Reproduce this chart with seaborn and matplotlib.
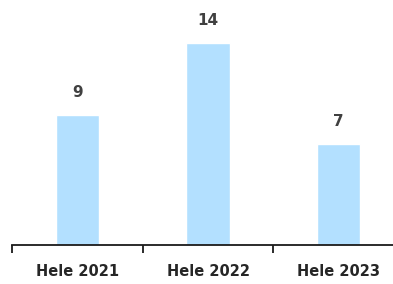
import pandas as pd
import seaborn as sns
import numpy as np
import matplotlib.pyplot as plt

periods = ['Hele 2021', 'Hele 2022', 'Hele 2023']
counts = [9, 14, 7]

sns.set_style('white')
plt.rcParams['font.family'] = ['DejaVu Sans']

df = pd.DataFrame({'periode': periods, 'antall': counts})

fig = plt.figure(figsize=(3.93, 2.84), dpi=100)
# axis runs a bit past the right edge, like the original
ax = fig.add_axes([12/393, 39/284, 392/393, 245/284])
sns.barplot(data=df, x='periode', y='antall', color='#b3e0ff', saturation=1,
            width=0.33, ax=ax)

ax.set_xlim(-0.5, 2.5)
ax.set_ylim(0, 17)
ax.set_xlabel('')
ax.set_ylabel('')
ax.set_yticks([])
sns.despine(ax=ax, left=True, top=True, right=True)
ax.spines['bottom'].set_color('#1a1a1a')
ax.spines['bottom'].set_linewidth(1.3)

ax.set_xticks(np.arange(-0.5, 3, 1), minor=True)
ax.tick_params(axis='x', which='minor', bottom=True, length=6, width=1.3,
               color='#1a1a1a', direction='out')
ax.tick_params(axis='x', which='major', length=0, pad=14)
for lab in ax.get_xticklabels():
    lab.set_fontweight('bold')
    lab.set_fontsize(10.5)
    lab.set_color('#262626')

for i, v in enumerate(counts):
    ax.annotate(str(v), (i, v), xytext=(0, 11), textcoords='offset points',
                ha='center', va='bottom', fontsize=11, fontweight='bold', color='#404040')

fig.savefig('out.png', dpi=100)
